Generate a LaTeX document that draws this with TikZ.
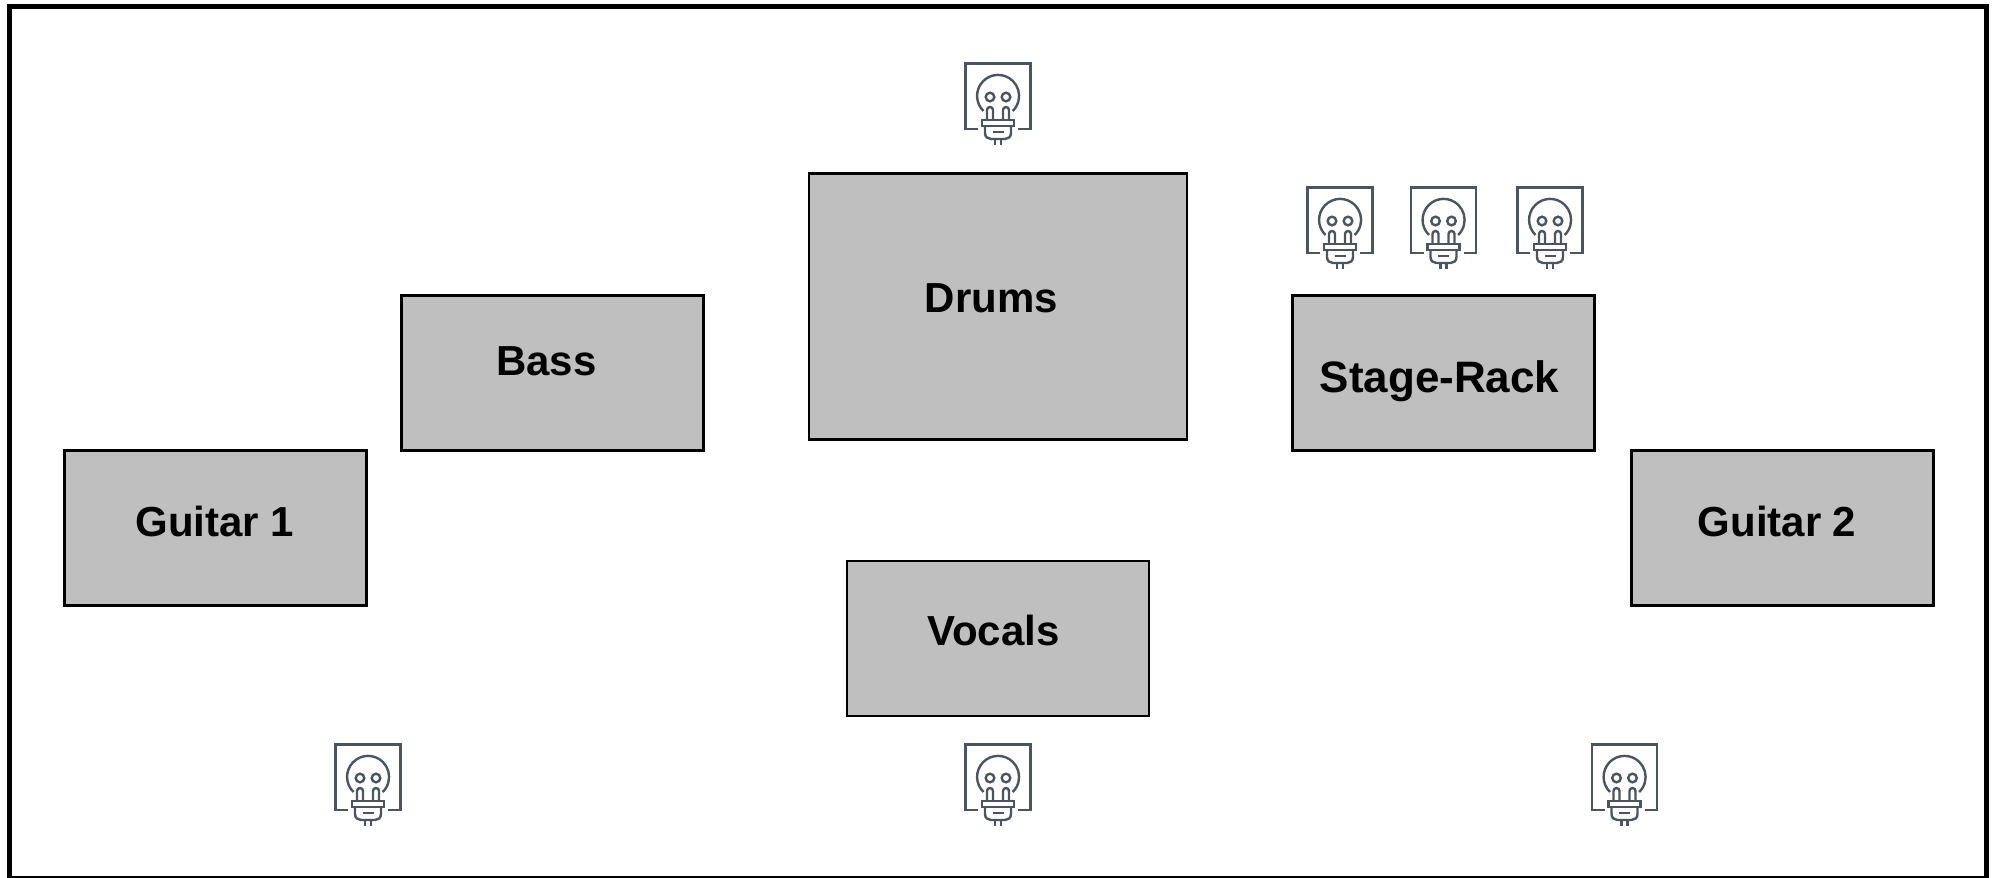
\documentclass[tikz,border=0pt]{standalone}
\usepackage{fontspec}
\setmainfont{Liberation Sans}
\definecolor{stagegray}{HTML}{BFBFBF}
\definecolor{socketgray}{HTML}{4A5560}
\tikzset{
  stagebox/.style={rectangle,draw=black,line width=1.25pt,fill=stagegray,minimum width=151pt,minimum height=77.5pt,inner sep=0pt},
  stagelabel/.style={anchor=base,inner sep=0pt,font=\fontsize{21}{26}\selectfont\bfseries},
  socketline/.style={socketgray,line width=1.2pt},
  outlet/.pic={
    \draw[socketline] (-20,66) -- (-32.5,66) -- (-32.5,0.5) -- (32.5,0.5) -- (32.5,66) -- (20,66);
    \draw[socketline] (-14.5,48) arc[start angle=134,end angle=406,radius=21];
    \draw[socketline] (-8,34) circle (4.3) (8,34) circle (4.3);
    \draw[socketline] (-11,57) -- (-11,47) arc[start angle=180,end angle=360,radius=3] -- (-5,57);
    \draw[socketline] (5,57) -- (5,47) arc[start angle=180,end angle=360,radius=3] -- (11,57);
    \draw[socketline] (-16,57) rectangle (16,63);
    \draw[socketline] (-13,63) -- (-13,70) .. controls (-13,74) and (-10,76) .. (-7,76) -- (7,76) .. controls (10,76) and (13,74) .. (13,70) -- (13,63);
    \draw[socketline] (-5.5,69) -- (5.5,69);
    \draw[socketline] (-3,76) -- (-3,82) (3,76) -- (3,82);
  }
}
\begin{document}
\begin{tikzpicture}
  [x=.5pt,y=-.5pt]
  \useasboundingbox (0,0) rectangle (1997,878);
  \draw[black,line width=2.75pt] (9.5,6.5) rectangle (1986.5,879);

  \node (guitarA) [stagebox] at (215.5,528) {};
  \node (bass)    [stagebox] at (552.5,373) {};
  \node (drums)   [stagebox,minimum width=189pt,minimum height=133pt] at (998,306.5) {};
  \node (rack)    [stagebox] at (1443.5,373) {};
  \node (guitarB) [stagebox] at (1782.5,528) {};
  \node (vocals)  [stagebox] at (998,638.5) {};

  \node (guitarAtext) [stagelabel] at (215,536.5) {Guitar 1};
  \node (basstext)    [stagelabel] at (546.5,375) {Bass};
  \node (drumstext)   [stagelabel] at (991.5,312) {Drums};
  \node (racktext)    [stagelabel,font=\fontsize{22}{26}\selectfont\bfseries] at (1439.5,392) {Stage-Rack};
  \node (guitarBtext) [stagelabel] at (1777,536.5) {Guitar 2};
  \node (vocalstext)  [stagelabel] at (993.5,645) {Vocals};

\foreach \sock/\sx/\sy in
{top/998/63, rackA/1340/187, rackB/1443.5/187, rackC/1550/187, left/368/744, mid/998/744, right/1624.5/744}
    \pic (\sock) at (\sx,\sy) {outlet};
\end{tikzpicture}
\end{document}
